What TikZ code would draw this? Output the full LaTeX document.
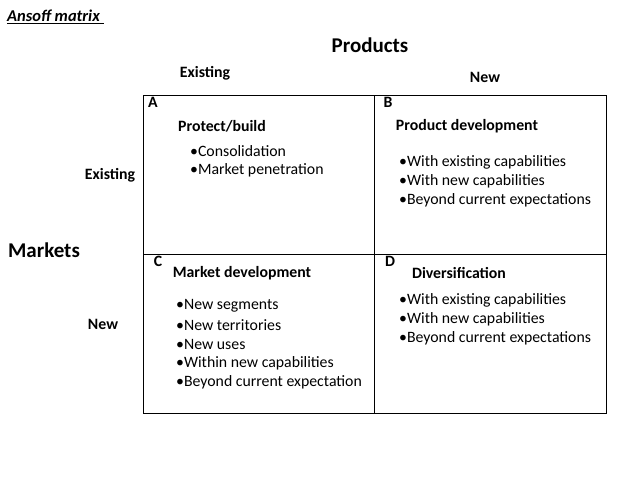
\documentclass[tikz,border=0pt]{standalone}
\usepackage{fontspec}
\setmainfont{Carlito}
\begin{document}
\begin{tikzpicture}[x=1pt,y=-1pt,
  t/.style={inner sep=0pt,font=\fontsize{15.8}{18}\selectfont},
  tb/.style={t,font=\fontsize{15.8}{18}\selectfont\bfseries},
  big/.style={t,font=\fontsize{21}{24}\selectfont\bfseries},
  bl/.style={t,anchor=west}]
\useasboundingbox (0,0) rectangle (638,479);
\draw[line width=1pt] (143,95) rectangle (606,413);
\draw[line width=1pt] (374,95) -- (374,413);
\draw[line width=1pt] (143,254) -- (606,254);
\node[t,anchor=west,font=\fontsize{16.5}{18}\selectfont\bfseries\itshape] (title) at (7,17) {\underline{Ansoff matrix\ }};
\node[big] (prod) at (370,45) {Products};
\node[tb] (pe) at (205,73) {Existing};
\node[tb] (pn) at (485,77) {New};
\node[big] (mk) at (44,250) {Markets};
\node[tb] (me) at (110,175) {Existing};
\node[tb] (mn) at (103,324) {New};
\node[tb] (a) at (153,102) {A};
\node[tb] (b) at (388,102) {B};
\node[tb] (c) at (158,261) {C};
\node[tb] (d) at (390,261) {D};
\node[tb] (ha) at (222,126) {Protect/build};
\node[tb] (hb) at (467,126) {Product development};
\node[tb] (hc) at (242,273) {Market development};
\node[tb] (hd) at (459,273) {Diversification};
\node[bl] at (190,151) {•Consolidation};
\node[bl] at (190,170) {•Market penetration};
\node[bl] at (399,162) {•With existing capabilities};
\node[bl] at (399,181) {•With new capabilities};
\node[bl] at (399,200) {•Beyond current expectations};
\node[bl] at (176,306) {•New segments};
\node[bl] at (176,325) {•New territories};
\node[bl] at (176,344) {•New uses};
\node[bl] at (176,363) {•Within new capabilities};
\node[bl] at (176,382) {•Beyond current expectation};
\node[bl] at (399,300) {•With existing capabilities};
\node[bl] at (399,319) {•With new capabilities};
\node[bl] at (399,338) {•Beyond current expectations};
\end{tikzpicture}
\end{document}
